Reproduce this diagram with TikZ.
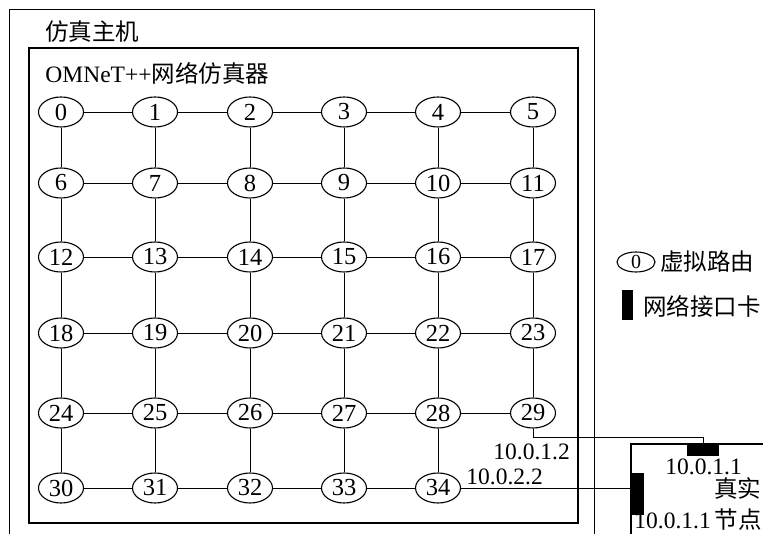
\documentclass[tikz,border=0pt]{standalone}
\usepackage{fontspec}
\setmainfont{Liberation Serif}
\newfontfamily\cjk{Noto Sans CJK SC}
\usetikzlibrary{positioning,shapes.geometric}

\begin{document}
\begin{tikzpicture}[
    x=1pt, y=1pt,
    line width=0.9pt,
    router/.style={
        ellipse,
        draw,
        line width=1.1pt,
        minimum width=45pt,
        minimum height=30pt,
        inner sep=0pt,
        font=\fontsize{24.5}{26}\selectfont
    },
    nic/.style={
        rectangle,
        fill=black,
        inner sep=0pt
    },
    txt/.style={
        inner sep=0pt,
        font=\fontsize{23.5}{26}\selectfont
    },
    frame/.style={line width=1.2pt}
]
\useasboundingbox (0,0) rectangle (763,-534);

\draw[frame] (9.5,-534) |- (594.5,-9.5) -- (594.5,-534);
\draw[frame] (29,-48) rectangle (578,-523);
\draw[frame] (631,-534) |- (763,-444);

\node[txt, anchor=west] (host) at (45,-32) {\cjk 仿真主机};
\node[txt, anchor=west] (sim) at (45,-73) {OMNeT++{\cjk 网络仿真器}};

\foreach \y [count=\r from 0] in {112,183,257,333,413,488} {
    \foreach \x [count=\c from 0] in {61,155,250,344,438,533} {
        \pgfmathtruncatemacro\n{\r*6+\c}
        \ifnum\n<35
            \node[router] (n\n) at (\x,-\y) {\n};
        \fi
    }
}
\foreach \r in {0,...,5} {
    \foreach \c in {0,...,4} {
        \pgfmathtruncatemacro\a{\r*6+\c}
        \pgfmathtruncatemacro\b{\a+1}
        \ifnum\b<35
            \draw (n\a) -- (n\b);
        \fi
    }
}
\foreach \a in {0,...,28} {
    \pgfmathtruncatemacro\b{\a+6}
    \draw (n\a) -- (n\b);
}

\node[nic, minimum width=32pt, minimum height=13pt] (nicA) at (703,-449.5) {};
\node[nic, minimum width=13pt, minimum height=42pt] (nicB) at (637.5,-494) {};

\draw (n29.south) -- ++(0,-9) -| (nicA.north);
\draw (n34.east) -- (n34.east -| nicB.west);

\node[txt, anchor=base west] (ipA) at (493,-459) {10.0.1.2};
\node[txt, anchor=base west] (ipB) at (466,-484) {10.0.2.2};
\node[txt, anchor=base west] (ipC) at (665,-474) {10.0.1.1};
\node[txt, anchor=base west] (real) at (714,-497) {\cjk 真实};
\node[txt, anchor=base west] (ipD) at (634,-528) {10.0.1.1\,{\cjk 节点}};

\node[router, minimum width=38pt, minimum height=20pt, font=\fontsize{20}{22}\selectfont] (legrouter) at (636,-262) {0};
\node[txt, anchor=west] (legrtext) at (660,-262) {\cjk 虚拟路由};
\node[nic, minimum width=11pt, minimum height=30pt] (legnic) at (627.5,-305) {};
\node[txt, anchor=west] (legntext) at (643,-306) {\cjk 网络接口卡};
\end{tikzpicture}
\end{document}
